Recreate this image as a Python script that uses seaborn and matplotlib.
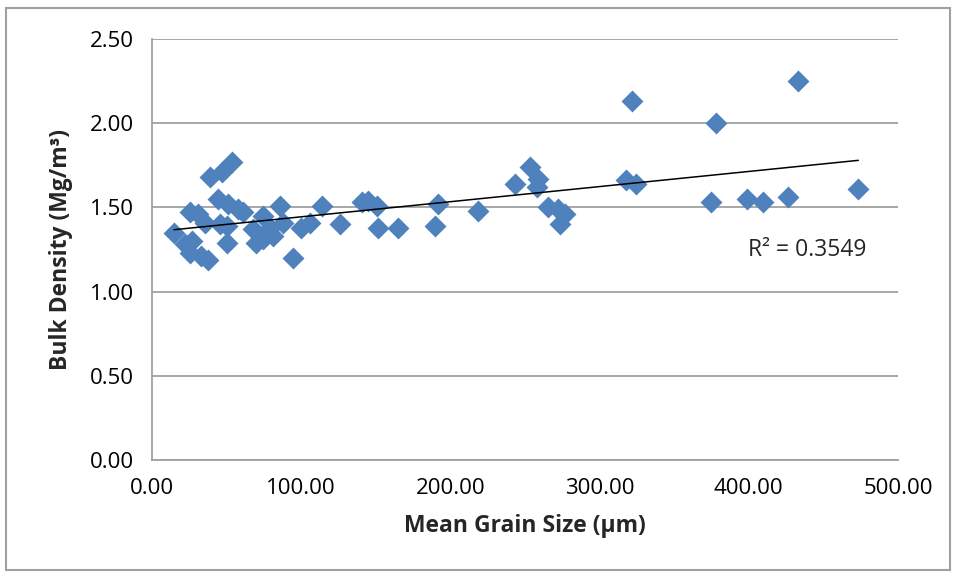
import matplotlib
matplotlib.use("Agg")
import matplotlib.pyplot as plt
import numpy as np
import pandas as pd
import seaborn as sns
from matplotlib.patches import Rectangle

# mean grain size (um) and bulk density (Mg/m3)
grain_size = [
    14.7, 25.5, 31.0, 35.5, 22.0, 26.6, 25.5, 33.0, 37.5, 38.9,
    46.7, 53.4, 44.4, 51.0, 57.6, 61.0, 45.6, 50.0, 50.0, 68.0,
    70.0, 74.6, 74.6, 79.0, 81.0, 85.8, 88.0, 94.7, 100.0, 106.0,
    113.7, 126.0, 140.5, 145.0, 150.6, 151.7, 165.0, 189.7, 192.0, 218.7,
    243.3, 253.4, 259.0, 257.8, 265.6, 272.3, 276.8, 273.5, 317.7, 322.0,
    324.4, 374.7, 378.0, 399.0, 409.3, 426.0, 433.0, 473.4,
]
bulk_density = [
    1.35, 1.47, 1.46, 1.41, 1.28, 1.30, 1.23, 1.21, 1.19, 1.68,
    1.71, 1.77, 1.55, 1.52, 1.49, 1.47, 1.40, 1.39, 1.29, 1.37,
    1.29, 1.45, 1.31, 1.38, 1.33, 1.51, 1.41, 1.20, 1.38, 1.41,
    1.51, 1.40, 1.53, 1.54, 1.51, 1.38, 1.38, 1.39, 1.52, 1.48,
    1.64, 1.74, 1.67, 1.62, 1.50, 1.49, 1.46, 1.40, 1.66, 2.13,
    1.64, 1.53, 2.00, 1.55, 1.53, 1.56, 2.25, 1.61,
]
x_ticks = [0, 100, 200, 300, 400, 500]
y_ticks = [0.0, 0.5, 1.0, 1.5, 2.0, 2.5]
r2_label = "R² = 0.3549"

df = pd.DataFrame({"GrainSize": grain_size, "BulkDensity": bulk_density})

sns.set_style("white")
plt.rcParams["font.family"] = ["Open Sans", "DejaVu Sans"]

grey = "#A0A0A0"
fig = plt.figure(figsize=(9.58, 5.78), dpi=100)
ax = fig.add_axes([152 / 958, 1 - 460 / 578, 746 / 958, 421 / 578])

sns.regplot(
    data=df,
    x="GrainSize",
    y="BulkDensity",
    ax=ax,
    ci=None,
    marker="D",
    scatter_kws={"s": 125, "color": "#4F81BD", "linewidths": 0, "alpha": 1, "zorder": 3},
    line_kws={"color": "black", "linewidth": 1.1, "zorder": 4},
)

ax.set_xlim(0, 500)
ax.set_ylim(0, 2.5)
ax.set_xticks(x_ticks)
ax.set_yticks(y_ticks)
ax.set_xticklabels([f"{v:.2f}" for v in x_ticks])
ax.set_yticklabels([f"{v:.2f}" for v in y_ticks])
ax.tick_params(axis="both", labelsize=16, colors=grey, labelcolor="#000000",
               direction="out", length=7, width=1.2, pad=6)
ax.yaxis.grid(True, color=grey, linewidth=1.3)
ax.set_axisbelow(True)
for side in ["top", "right"]:
    ax.spines[side].set_visible(False)
for side in ["left", "bottom"]:
    ax.spines[side].set_color(grey)
    ax.spines[side].set_linewidth(1.3)

ax.set_xlabel("Mean Grain Size (µm)", fontsize=16.5, fontweight="bold", labelpad=11)
ax.set_ylabel("Bulk Density (Mg/m³)", fontsize=16.5, fontweight="bold", labelpad=12)
# R² label placed in figure fraction (approx. 748 px from left, 250 px from top)
ax.text(748 / 958, 1 - 250 / 578, r2_label, transform=fig.transFigure,
        fontsize=16.5, va="center", ha="left")

fig.patches.append(Rectangle((6 / 958, 8 / 578), 944 / 958, 562 / 578, transform=fig.transFigure,
                             fill=False, edgecolor=grey, linewidth=1.5))

fig.savefig("out.png", dpi=100)
